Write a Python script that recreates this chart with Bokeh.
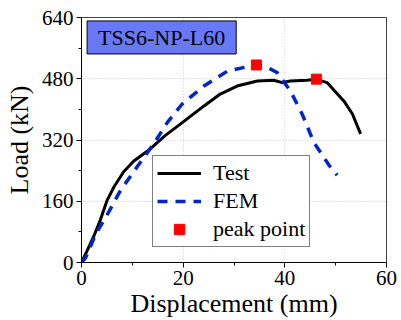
from bokeh.plotting import figure
from bokeh.models import Range1d, Label, Legend, LegendItem, FixedTicker
from bokeh.embed import file_html
from bokeh.resources import INLINE

test_disp = [0, 1.0, 2.4, 3.7, 5.06, 6.4, 8.3, 10.3, 13.2, 16.5, 19.5, 24.1, 27.3, 30.6, 34.6, 37.8, 39.5, 41.1, 44.4, 46.2, 48.3, 51.6, 53.3, 54.9]
test_load = [0, 28, 68, 111, 163, 198, 237, 265, 293, 332, 362, 409, 440, 461, 474, 476, 470, 474, 476, 479, 470, 422, 388, 336]

fem_disp = [0, 0.8, 2.75, 5.4, 7.7, 10.95, 14.2, 16.9, 19.8, 24.1, 28.7, 33.2, 34.4, 36.5, 38.5, 41.1, 43.4, 45.7, 48.7, 50.3]
fem_load = [0, 12, 73, 133, 189, 250, 310, 366, 414, 461, 500, 513, 517, 510, 496, 448, 388, 314, 254, 228]

peak_disp = [34.4, 46.2]
peak_load = [516, 479]

x_ticks = [0, 20, 40, 60]
y_ticks = [0, 160, 320, 480, 640]

FONT = "Liberation Serif"

p = figure(width=401, height=320, output_backend="svg", toolbar_location=None,
           x_range=Range1d(0, 60), y_range=Range1d(0, 640),
           min_border_left=81, min_border_right=15, min_border_top=17, min_border_bottom=57)

p.outline_line_color = "#444444"
p.outline_line_width = 1

for axes, ticks in ((p.xaxis, x_ticks), (p.yaxis, y_ticks)):
    axes.ticker = FixedTicker(ticks=ticks, minor_ticks=[(a + b) / 2 for a, b in zip(ticks[:-1], ticks[1:])])
    axes.major_label_text_font = FONT
    axes.major_label_text_font_size = "21px"
    axes.major_label_text_color = "black"
    axes.axis_label_text_font = FONT
    axes.axis_label_text_font_size = "26px"
    axes.axis_label_text_font_style = "normal"
    axes.axis_label_text_color = "black"
    axes.axis_line_color = "black"
    axes.major_tick_line_color = "black"
    axes.minor_tick_line_color = "black"
    axes.major_tick_out = 5
    axes.major_tick_in = 0
    axes.minor_tick_out = 3
    axes.minor_tick_in = 0
    axes.major_label_standoff = 3

p.xaxis.axis_label = "Displacement (mm)"
p.yaxis.axis_label = "Load (kN)"
p.xaxis.axis_label_standoff = 1
p.yaxis.axis_label_standoff = 5

p.grid.grid_line_color = "#cccccc"
p.grid.grid_line_dash = "1 2"
p.grid.grid_line_width = 1

r_test = p.line(test_disp, test_load, line_color="black", line_width=3)
r_fem = p.line(fem_disp, fem_load, line_color="#0026c8", line_width=3.5, line_dash="10 8")
r_peak = p.scatter(peak_disp, peak_load, marker="square", size=10, fill_color="#ff0000", line_color="#ff0000")

legend = Legend(items=[LegendItem(label="Test", renderers=[r_test]),
                       LegendItem(label="FEM", renderers=[r_fem]),
                       LegendItem(label="peak point", renderers=[r_peak])],
                location=(71, 15), orientation="vertical",
                label_text_font=FONT, label_text_font_size="22px", label_text_color="black",
                glyph_width=44, glyph_height=26, label_height=26, spacing=2,
                label_standoff=12, padding=4, margin=0,
                border_line_color="black", border_line_width=1, background_fill_alpha=1)
p.add_layout(legend, "center")

title = Label(x=1.1, y=631, text="TSS6-NP-L60", anchor="top_left",
              text_font=FONT, text_font_size="22px", text_color="black",
              background_fill_color="#6878f8", border_line_color="black", border_line_width=1,
              padding=(11, 4))
p.add_layout(title)

open("out.html", "w").write(file_html(p, INLINE))
